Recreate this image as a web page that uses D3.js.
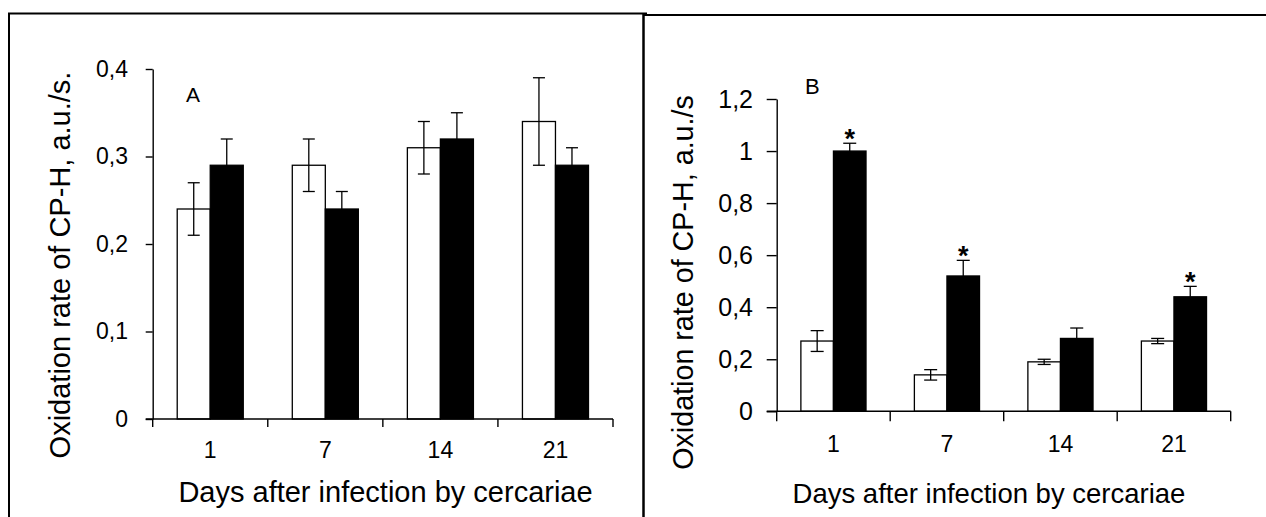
<!DOCTYPE html>
<html>
<head>
<meta charset="utf-8">
<script src="https://cdn.jsdelivr.net/npm/d3@7"></script>
<style>
  html, body { margin: 0; padding: 0; background: #fff; }
  svg { display: block; }
  text { font-family: "Liberation Sans", Arial, Helvetica, sans-serif; fill: #000; }
</style>
</head>
<body>
<svg id="chart" width="1266" height="517"></svg>
<script>
// ---- data ----
const days = ["1", "7", "14", "21"];
const series = ["control", "infected"];

const aControl      = [0.24, 0.29, 0.31, 0.34];
const aControlErr   = [0.03, 0.03, 0.03, 0.05];
const aInfected     = [0.29, 0.24, 0.32, 0.29];
const aInfectedErr  = [0.03, 0.02, 0.03, 0.02];
const aTicks        = [0, 0.1, 0.2, 0.3, 0.4];

const bControl      = [0.27, 0.14, 0.19, 0.27];
const bControlErr   = [0.04, 0.02, 0.01, 0.01];
const bInfected     = [1.00, 0.52, 0.28, 0.44];
const bInfectedErr  = [0.03, 0.06, 0.04, 0.04];
const bSignificant  = [true, true, false, true];
const bTicks        = [0, 0.2, 0.4, 0.6, 0.8, 1.0, 1.2];

const xTitle = "Days after infection by cercariae";
const aYTitle = "Oxidation rate of CP-H, a.u./s.";
const bYTitle = "Oxidation rate of CP-H, a.u./s";

const svg = d3.select("#chart");
const fmt = v => String(v).replace(".", ",");

// ---- panel frames ----
const frame = svg.append("g").attr("stroke", "#000").attr("fill", "none");
frame.append("line").attr("x1", 8).attr("x2", 647).attr("y1", 13.5).attr("y2", 13.5).attr("stroke-width", 2);
frame.append("line").attr("x1", 9).attr("x2", 9).attr("y1", 13).attr("y2", 517).attr("stroke-width", 2);
frame.append("line").attr("x1", 643.5).attr("x2", 643.5).attr("y1", 13).attr("y2", 517).attr("stroke-width", 2.5);
frame.append("line").attr("x1", 643).attr("x2", 1266).attr("y1", 15).attr("y2", 15).attr("stroke-width", 2);

function panel(cfg) {
  const g = svg.append("g");
  const x = d3.scaleBand().domain(days).range([cfg.x0, cfg.x1]).padding(0);
  const barFrac = 33 / 115;
  const pOuter = (1 / barFrac - 2) / 2;
  const xs = d3.scaleBand().domain(series).range([0, x.bandwidth()]).paddingInner(0).paddingOuter(pOuter);
  const y = d3.scaleLinear().domain(cfg.domain).range([cfg.y0, cfg.y1]);

  const rows = days.map((d, i) => ({
    day: d,
    vals: [
      { s: "control", v: cfg.control[i], e: cfg.controlErr[i] },
      { s: "infected", v: cfg.infected[i], e: cfg.infectedErr[i], sig: cfg.sig ? cfg.sig[i] : false }
    ]
  }));

  // y axis
  const yAxis = d3.axisLeft(y).tickValues(cfg.ticks).tickFormat(fmt)
    .tickSize(cfg.yTick).tickSizeOuter(0).tickPadding(cfg.yPad);
  const ya = g.append("g").attr("transform", `translate(${cfg.x0},0)`).call(yAxis);
  ya.select(".domain").attr("stroke", "#000").attr("stroke-width", 1.4);
  ya.selectAll(".tick line").attr("stroke", "#000").attr("stroke-width", 1.4);
  ya.selectAll(".tick text").attr("font-family", "Liberation Sans, Arial, sans-serif")
    .attr("font-size", cfg.yFont).attr("fill", "#000");

  // bars
  const grp = g.selectAll(".grp").data(rows).join("g")
    .attr("transform", d => `translate(${x(d.day)},0)`);
  grp.selectAll("rect").data(d => d.vals).join("rect")
    .attr("x", d => xs(d.s))
    .attr("width", xs.bandwidth())
    .attr("y", d => y(d.v))
    .attr("height", d => y(0) - y(d.v))
    .attr("fill", d => d.s === "control" ? "#fff" : "#000")
    .attr("stroke", "#000").attr("stroke-width", 1.3);

  // error bars
  const cap = cfg.cap;
  const eb = grp.selectAll(".eb").data(d => d.vals).join("g").attr("class", "eb")
    .attr("stroke", "#000").attr("stroke-width", 1.3);
  eb.append("line")
    .attr("x1", d => xs(d.s) + xs.bandwidth() / 2).attr("x2", d => xs(d.s) + xs.bandwidth() / 2)
    .attr("y1", d => y(d.v - d.e)).attr("y2", d => y(d.v + d.e));
  eb.append("line")
    .attr("x1", d => xs(d.s) + xs.bandwidth() / 2 - cap / 2).attr("x2", d => xs(d.s) + xs.bandwidth() / 2 + cap / 2)
    .attr("y1", d => y(d.v + d.e)).attr("y2", d => y(d.v + d.e));
  eb.append("line")
    .attr("x1", d => xs(d.s) + xs.bandwidth() / 2 - cap / 2).attr("x2", d => xs(d.s) + xs.bandwidth() / 2 + cap / 2)
    .attr("y1", d => y(d.v - d.e)).attr("y2", d => y(d.v - d.e));

  // significance asterisks
  grp.selectAll(".sig").data(d => d.vals.filter(v => v.sig)).join("text")
    .attr("x", d => xs(d.s) + xs.bandwidth() / 2)
    .attr("y", d => y(d.v + d.e) + 5)
    .attr("text-anchor", "middle")
    .attr("font-size", 27).attr("font-weight", "bold")
    .text("*");

  // x axis: line + boundary ticks
  const xa = g.append("g").attr("stroke", "#000").attr("stroke-width", 1.4);
  xa.append("line").attr("x1", cfg.x0 - cfg.yTick).attr("x2", cfg.x1)
    .attr("y1", y(0)).attr("y2", y(0));
  const bounds = days.map(d => x(d)).concat([x.range()[1]]);
  xa.selectAll(".bt").data(bounds).join("line")
    .attr("x1", d => d).attr("x2", d => d)
    .attr("y1", y(0)).attr("y2", y(0) + cfg.xTick);

  const xAxis = d3.axisBottom(x).tickSize(0).tickPadding(cfg.xPad);
  const xl = g.append("g").attr("transform", `translate(0,${y(0)})`).call(xAxis);
  xl.select(".domain").remove();
  xl.selectAll(".tick text").attr("font-family", "Liberation Sans, Arial, sans-serif")
    .attr("font-size", cfg.xFont).attr("fill", "#000");

  // titles
  g.append("text").attr("x", cfg.xTitleX).attr("y", cfg.xTitleY)
    .attr("text-anchor", "middle").attr("font-size", cfg.xTitleFont).text(xTitle);
  g.append("text")
    .attr("transform", `translate(${cfg.yTitleX},${cfg.yTitleY}) rotate(-90)`)
    .attr("text-anchor", "middle").attr("font-size", cfg.yTitleFont).text(cfg.yTitle);

  g.append("text").attr("x", cfg.letterX).attr("y", cfg.letterY)
    .attr("font-size", cfg.letterFont)
    .attr("font-family", cfg.letterFamily)
    .text(cfg.letter);
}

panel({
  x0: 152.7, x1: 613, y0: 419, y1: 69, domain: [0, 0.4], ticks: aTicks,
  control: aControl, controlErr: aControlErr, infected: aInfected, infectedErr: aInfectedErr,
  yTick: 7, yPad: 17.7, yFont: 23, xTick: 8, xPad: 22.7, xFont: 23, cap: 12,
  xTitleX: 385.5, xTitleY: 502, xTitleFont: 29,
  yTitle: aYTitle, yTitleX: 69.5, yTitleY: 265, yTitleFont: 29,
  letter: "A", letterX: 186, letterY: 102, letterFont: 21, letterFamily: "Liberation Sans, Arial, sans-serif"
});

panel({
  x0: 776.7, x1: 1230.7, y0: 411.3, y1: 99, domain: [0, 1.2], ticks: bTicks,
  control: bControl, controlErr: bControlErr, infected: bInfected, infectedErr: bInfectedErr, sig: bSignificant,
  yTick: 10, yPad: 13.7, yFont: 25, xTick: 10, xPad: 24.5, xFont: 23, cap: 13,
  xTitleX: 989, xTitleY: 503, xTitleFont: 27.5,
  yTitle: bYTitle, yTitleX: 693, yTitleY: 282.5, yTitleFont: 28.7,
  letter: "B", letterX: 805, letterY: 94, letterFont: 22, letterFamily: "Lato, 'Open Sans', sans-serif"
});
</script>
</body>
</html>
